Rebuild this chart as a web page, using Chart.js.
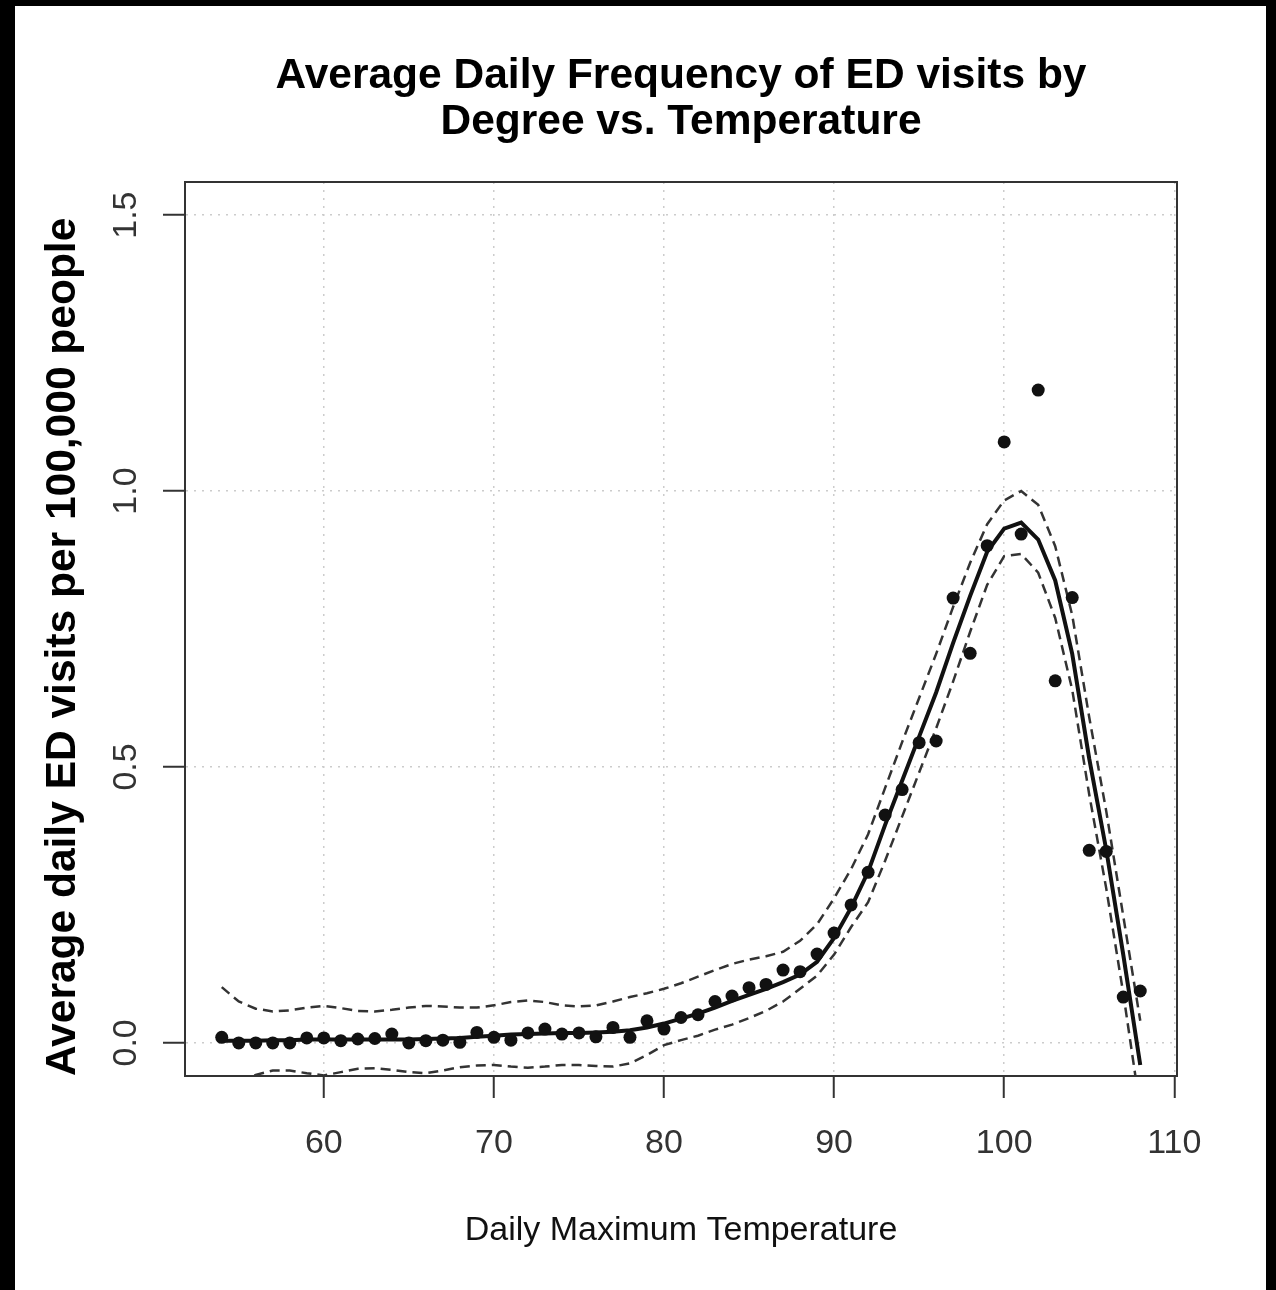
<!DOCTYPE html>
<html>
<head>
<meta charset="utf-8">
<script src="https://cdn.jsdelivr.net/npm/chart.js@4.4.1/dist/chart.umd.min.js"></script>
<style>
  html, body { margin: 0; padding: 0; background: #000; }
  #frame { position: absolute; left: 15px; top: 6px; width: 1251px; height: 1284px; background: #fff; }
</style>
</head>
<body>
<div id="frame"><canvas id="myChart"></canvas></div>
<script>
var temps = [54, 55, 56, 57, 58, 59, 60, 61, 62, 63, 64, 65, 66, 67, 68, 69, 70, 71, 72, 73,
  74, 75, 76, 77, 78, 79, 80, 81, 82, 83, 84, 85, 86, 87, 88, 89, 90, 91, 92, 93,
  94, 95, 96, 97, 98, 99, 100, 101, 102, 103, 104, 105, 106, 107, 108];

// observed average daily visits per 100,000
var visits = [0.010, 0.000, 0.000, 0.000, 0.000, 0.009, 0.009, 0.004, 0.007, 0.008,
  0.016, 0.000, 0.004, 0.005, 0.001, 0.019, 0.010, 0.005, 0.018, 0.025,
  0.016, 0.018, 0.011, 0.028, 0.010, 0.040, 0.025, 0.046, 0.051, 0.075,
  0.085, 0.100, 0.106, 0.132, 0.129, 0.161, 0.199, 0.250, 0.309, 0.413,
  0.459, 0.544, 0.547, 0.806, 0.706, 0.901, 1.089, 0.922, 1.183, 0.656,
  0.807, 0.349, 0.347, 0.083, 0.094];

// fitted curve and its upper / lower bands
var fit = [0.004, 0.004, 0.004, 0.005, 0.005, 0.006, 0.006, 0.006, 0.006, 0.006,
  0.006, 0.006, 0.007, 0.008, 0.009, 0.011, 0.013, 0.015, 0.016, 0.017,
  0.018, 0.018, 0.019, 0.020, 0.023, 0.028, 0.035, 0.044, 0.053, 0.064,
  0.076, 0.087, 0.098, 0.110, 0.124, 0.147, 0.190, 0.245, 0.310, 0.395,
  0.475, 0.555, 0.635, 0.725, 0.810, 0.890, 0.932, 0.943, 0.912, 0.838,
  0.705, 0.515, 0.350, 0.160, -0.040];

var upper = [0.101, 0.075, 0.062, 0.057, 0.059, 0.064, 0.067, 0.063, 0.058, 0.057,
  0.060, 0.064, 0.067, 0.066, 0.064, 0.064, 0.068, 0.074, 0.077, 0.074,
  0.068, 0.066, 0.068, 0.075, 0.083, 0.090, 0.098, 0.108, 0.120, 0.132,
  0.143, 0.151, 0.157, 0.165, 0.185, 0.215, 0.262, 0.315, 0.378, 0.462,
  0.545, 0.625, 0.705, 0.790, 0.870, 0.940, 0.983, 1.000, 0.975, 0.900,
  0.775, 0.590, 0.420, 0.230, 0.040];

var lower = [-0.120, -0.075, -0.058, -0.050, -0.050, -0.055, -0.059, -0.053, -0.047, -0.046,
  -0.049, -0.053, -0.055, -0.050, -0.044, -0.041, -0.040, -0.043, -0.045, -0.043,
  -0.040, -0.040, -0.042, -0.043, -0.037, -0.022, -0.004, 0.005, 0.013, 0.024,
  0.033, 0.045, 0.058, 0.075, 0.098, 0.122, 0.160, 0.210, 0.255, 0.330,
  0.410, 0.490, 0.570, 0.655, 0.745, 0.830, 0.882, 0.886, 0.852, 0.770,
  0.640, 0.450, 0.280, 0.090, -0.120];

var xTicks = [60, 70, 80, 90, 100, 110];
var yTicks = [0, 0.5, 1.0, 1.5];

function pairs(vals) {
  return temps.map(function (t, i) { return { x: t, y: vals[i] }; });
}

// R style closed box around the plot region
var boxPlugin = {
  id: 'plotBox',
  afterDraw: function (chart) {
    var a = chart.chartArea;
    var ctx = chart.ctx;
    ctx.save();
    ctx.strokeStyle = '#333';
    ctx.lineWidth = 2;
    ctx.strokeRect(a.left, a.top, a.right - a.left, a.bottom - a.top);
    ctx.restore();
  }
};

var ctx = document.getElementById('myChart');
var chart = new Chart(ctx, {
  type: 'scatter',
  data: {
    datasets: [{
      label: 'Observed',
      data: pairs(visits),
      backgroundColor: '#111',
      borderWidth: 0,
      pointRadius: 6.5,
      showLine: false
    }, {
      label: 'Fit',
      data: pairs(fit),
      showLine: true,
      borderColor: '#111',
      borderWidth: 4,
      pointRadius: 0,
      tension: 0
    }, {
      label: 'Upper',
      data: pairs(upper),
      showLine: true,
      borderColor: '#333',
      borderWidth: 2.5,
      borderDash: [10, 6],
      pointRadius: 0,
      tension: 0
    }, {
      label: 'Lower',
      data: pairs(lower),
      showLine: true,
      borderColor: '#333',
      borderWidth: 2.5,
      borderDash: [10, 6],
      pointRadius: 0,
      tension: 0
    }]
  },
  options: {
    responsive: true,
    maintainAspectRatio: false,
    animation: false,
    layout: { padding: { left: 0, right: 89, top: 0, bottom: 0 } },
    plugins: {
      legend: { display: false },
      tooltip: { enabled: false },
      title: {
        display: true,
        fullSize: false,
        text: ['Average Daily Frequency of ED visits by', 'Degree vs. Temperature'],
        color: '#000',
        font: { family: 'Liberation Sans', size: 42.5, weight: 'bold', lineHeight: 1.1 },
        padding: { top: 46.5, bottom: 36 }
      }
    },
    scales: {
      x: {
        type: 'linear',
        min: 51.84,
        max: 110.16,
        afterBuildTicks: function (s) { s.ticks = xTicks.map(function (v) { return { value: v }; }); },
        afterFit: function (s) { s.height = 214; },
        grid: { color: '#ccc', lineWidth: 1.5, tickLength: 22, tickColor: '#333', tickWidth: 2 },
        border: { display: true, color: '#333', width: 2, dash: [2, 6] },
        ticks: {
          color: '#333',
          padding: 25,
          maxRotation: 0,
          font: { family: 'Liberation Sans', size: 34, lineHeight: 1.2 }
        },
        title: {
          display: true,
          text: 'Daily Maximum Temperature',
          color: '#111',
          font: { family: 'Liberation Sans', size: 34, lineHeight: 1.2 },
          padding: { top: 0, bottom: 39 }
        }
      },
      y: {
        type: 'linear',
        min: -0.06,
        max: 1.56,
        afterBuildTicks: function (s) { s.ticks = yTicks.map(function (v) { return { value: v }; }); },
        afterFit: function (s) { s.width = 170; },
        grid: { color: '#ccc', lineWidth: 1.5, tickLength: 22, tickColor: '#333', tickWidth: 2 },
        border: { display: true, color: '#333', width: 2, dash: [2, 6] },
        ticks: {
          color: '#333',
          padding: 13,
          minRotation: 90,
          maxRotation: 90,
          crossAlign: 'center',
          font: { family: 'Liberation Sans', size: 34, lineHeight: 1.2 },
          callback: function (v) { return Number(v).toFixed(1); }
        },
        title: {
          display: true,
          align: 'start',
          text: 'Average daily ED visits per 100,000 people',
          color: '#000',
          font: { family: 'Liberation Sans', size: 42.5, weight: 'bold', lineHeight: 1.2 },
          padding: { top: 23, bottom: 0 }
        }
      }
    }
  },
  plugins: [boxPlugin]
});
</script>
</body>
</html>
